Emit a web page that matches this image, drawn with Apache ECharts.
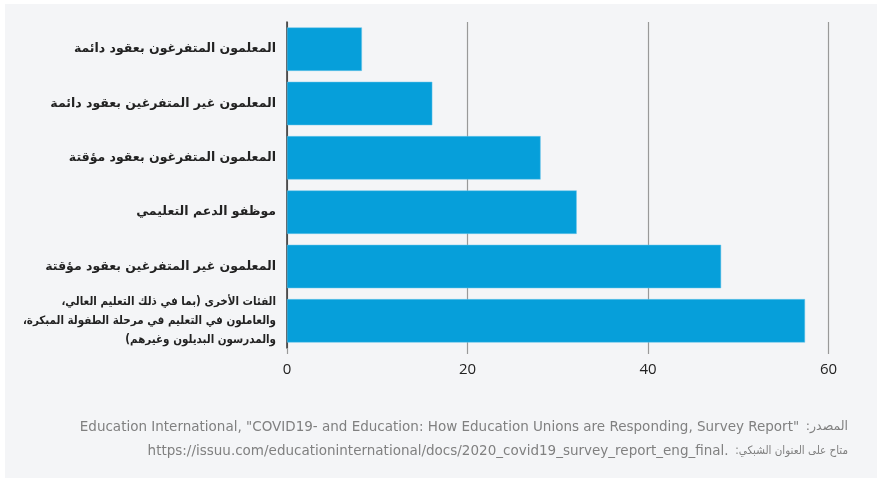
<!DOCTYPE html>
<html>
<head>
<meta charset="utf-8">
<script src="https://cdn.jsdelivr.net/npm/echarts@6/dist/echarts.min.js"></script>
<style>
  html, body { margin: 0; padding: 0; background: #ffffff; }
  #chart { width: 882px; height: 481px; }
</style>
</head>
<body>
<div id="chart"></div>
<script>
// categories, top to bottom
const categories = [
  'المعلمون المتفرغون بعقود دائمة',
  'المعلمون غير المتفرغين بعقود دائمة',
  'المعلمون المتفرغون بعقود مؤقتة',
  'موظفو الدعم التعليمي',
  'المعلمون غير المتفرغين بعقود مؤقتة',
  'الفئات الأخرى (بما في ذلك التعليم العالي،\nوالعاملون في التعليم في مرحلة الطفولة المبكرة،\nوالمدرسون البديلون وغيرهم)'
];
const values = [8.3, 16.1, 28.1, 32.1, 48.1, 57.4];
const xTicks = [0, 20, 40, 60];

const sourceEn = 'Education International, "COVID19- and Education: How Education Unions are Responding, Survey Report"';
const sourceAr = 'المصدر:';
const linkEn = 'https://issuu.com/educationinternational/docs/2020_covid19_survey_report_eng_final.';
const linkAr = 'متاح على العنوان الشبكي:';

const RLM = '\u200F';
const rtl = s => s.split('\n').map(l => RLM + l + RLM).join('\n');

const myChart = echarts.init(document.getElementById('chart'), null, { renderer: 'canvas' });

const option = {
  animation: false,
  backgroundColor: 'transparent',
  graphic: [
    {
      type: 'rect', z: -10, silent: true,
      shape: { x: 5, y: 4, width: 872, height: 474 },
      style: { fill: '#f4f5f7' }
    },
    {
      type: 'text', right: 34, top: 420,
      style: {
        text: '{en|' + sourceEn + '}  {ar|' + sourceAr + RLM + '}',
        rich: {
          en: { fontFamily: 'DejaVu Sans', fontSize: 13.5, fill: '#808080' },
          ar: { fontFamily: 'DejaVu Sans', fontSize: 12.5, fill: '#808080' }
        }
      }
    },
    {
      type: 'text', right: 34, top: 444,
      style: {
        text: '{en|' + linkEn + '}  {ar|' + linkAr + RLM + '}',
        rich: {
          en: { fontFamily: 'DejaVu Sans', fontSize: 13.5, fill: '#808080' },
          ar: { fontFamily: 'DejaVu Sans Condensed', fontSize: 11.5, fill: '#808080' }
        }
      }
    }
  ],
  grid: { left: 287, right: 53.5, top: 22, bottom: 133, outerBoundsMode: 'none' },
  xAxis: {
    type: 'value',
    min: 0, max: 60, interval: 20,
    axisLine: { show: false },
    axisTick: { show: true, length: 6, lineStyle: { color: '#999', width: 1.2 } },
    splitLine: { show: true, lineStyle: { color: '#999', width: 1.2 } },
    axisLabel: {
      margin: 14, fontSize: 15, color: '#222', fontFamily: 'Open Sans',
      formatter: v => xTicks.includes(v) ? String(v) : ''
    }
  },
  yAxis: {
    type: 'category',
    inverse: true,
    data: categories,
    axisLine: { show: true, lineStyle: { color: '#333', width: 1.5 } },
    axisTick: { show: false },
    axisLabel: {
      margin: 11, fontSize: 12.5, color: '#222', fontWeight: 'bold',
      fontFamily: 'DejaVu Sans', align: 'right',
      formatter: v => v.includes('\n')
        ? '{small|' + rtl(v).split('\n').join('}\n{small|') + '}'
        : rtl(v),
      rich: {
        small: {
          fontFamily: 'DejaVu Sans Condensed', fontSize: 11.5, fontWeight: 'bold',
          color: '#222', lineHeight: 19, align: 'right'
        }
      }
    }
  },
  series: [
    {
      type: 'bar',
      data: values,
      barCategoryGap: '20%',
      itemStyle: { color: '#069fda', borderColor: '#6cc6ea', borderWidth: 0.5 }
    }
  ]
};

option && myChart.setOption(option);
</script>
</body>
</html>
